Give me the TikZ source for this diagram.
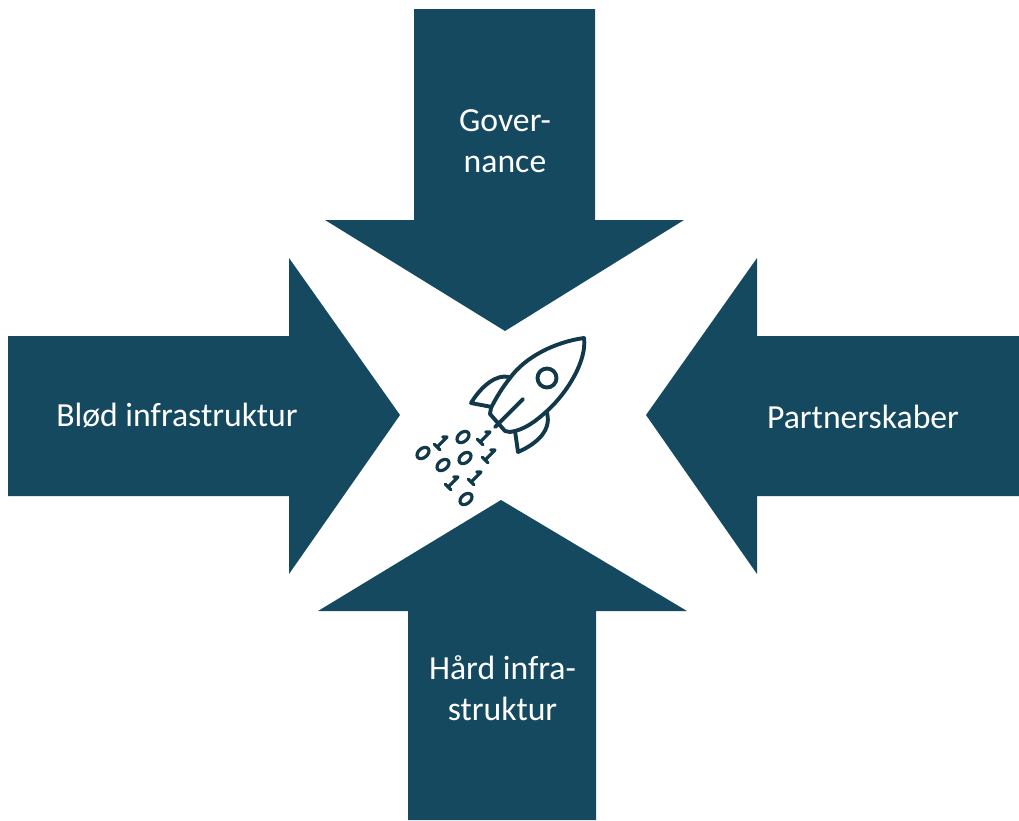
\documentclass[tikz,border=0pt]{standalone}
\usepackage{fontspec}
\setmainfont{Carlito}
\definecolor{petrol}{HTML}{15495F}
\definecolor{rocketink}{HTML}{12394A}
\tikzset{
    bigarrow/.style={fill=petrol,draw=none},
    arrowlabel/.style={text=white,font=\fontsize{33.7}{41}\selectfont,align=center,inner sep=0pt},
    rocketline/.style={draw=rocketink,line width=3.9pt,line join=round,line cap=round,fill=white},
    digitline/.style={draw=rocketink,line width=3.2pt,line cap=round,line join=round}
}
\begin{document}
\begin{tikzpicture}[x=1pt,y=-1pt]
\useasboundingbox (0,0) rectangle (1019,820);
% arrows
\fill[bigarrow](414,9)--(595,9)--(595,220)--(684,220)--(505,331)--(325,220)--(414,220)--cycle;
\fill[bigarrow](8,336)--(289,336)--(289,258)--(400,415)--(289,574)--(289,496)--(8,496)--cycle;
\fill[bigarrow](1019,336)--(757,336)--(757,258)--(646,415)--(757,574)--(757,496)--(1019,496)--cycle;
\fill[bigarrow](408,820)--(408,611)--(318,611)--(501,500)--(687,611)--(596,611)--(596,820)--cycle;

\node[arrowlabel] (governance) at (505,141.5){Gover-\\nance};
\node[arrowlabel] (bloed) at (177,415){Blød infrastruktur};
\node[arrowlabel] (partner) at (863,417){Partnerskaber};
\node[arrowlabel] (haard) at (502.5,688){Hård infra-\\struktur};

% rocket
\draw[rocketline](509,377)..controls (497,374) and (482,385)..(471,403)--(492,407)--(515,400)--cycle;
\draw[rocketline](515,431)--(518,452)..controls (534,445) and (552,432)..(547,413)--(530,405)--cycle;
\draw[rocketline](584,338)..controls (555,342) and (525,357)..(510,378)
    ..controls (502,388) and (496,398)..(491,408)--(490,414)--(505,431)--(510,432)
    ..controls (525,430) and (537,420)..(547,411)
    ..controls (568,392) and (587,360)..(584,338)--cycle;
\draw[rocketline](547,378)circle(9.5);
\draw[rocketline](523,399)--(495,427);

% digits
\foreach \xa/\ya in {423/453,463/437,443/465,465/458,466/499}{
    \draw[digitline,rotate around={40:(\xa,\ya)}](\xa,\ya)ellipse(6.8 and 4.6);
}
\foreach \xa/\ya in {442/442,485/437,490/455,476/477,453/482}{
    \begin{scope}[shift={(\xa,\ya)},rotate=45]
    \draw[digitline](-7,0)--(7,0)--(4,-3);
    \draw[digitline](-7,-4)--(-7,4);
    \end{scope}
}
\end{tikzpicture}
\end{document}
